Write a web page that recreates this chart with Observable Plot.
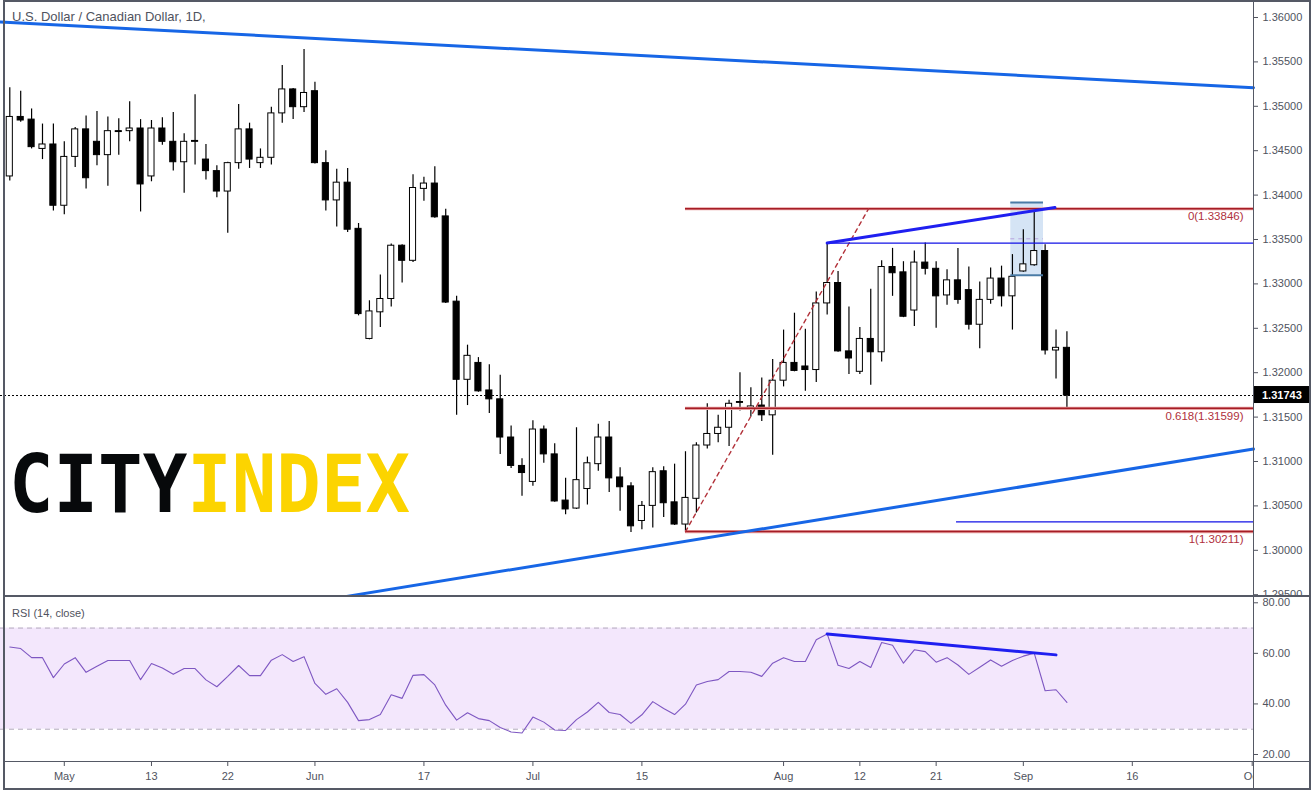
<!DOCTYPE html>
<html>
<head>
<meta charset="utf-8">
<script src="https://cdn.jsdelivr.net/npm/d3@7"></script>
<script src="https://cdn.jsdelivr.net/npm/@observablehq/plot@0.6"></script>
<style>
  body { margin: 0; background: #fff; }
  #wrap { position: relative; width: 1311px; height: 790px; overflow: hidden; font-family: "Liberation Sans", Arial, sans-serif; background: #fff; }
  #logo, #price, #rsi { position: absolute; left: 0; }
  #logo { top: 0; }
  #price { top: 0; }
  #rsi { top: 596px; }
  #price svg, #rsi svg { overflow: hidden; display: block; }
  .ln { position: absolute; background: #555965; }
  #title { position: absolute; left: 12px; top: 9px; font-size: 13px; line-height: 15px; color: #50535e; white-space: nowrap; }
  #rsiTitle { position: absolute; left: 12px; top: 606px; font-size: 11px; line-height: 14px; color: #50535e; white-space: nowrap; }
  #cover { position: absolute; left: 1254px; top: 763px; width: 55px; height: 25px; background: #fff; }
</style>
</head>
<body>
<div id="wrap">
  <svg id="logo" width="1311" height="790">
    <text x="9" y="512" font-family="DejaVu Sans Mono" font-weight="bold" font-size="80" textLength="401" lengthAdjust="spacingAndGlyphs"><tspan fill="#07090b">CITY</tspan><tspan fill="#fcd400">INDEX</tspan></text>
  </svg>
  <div id="price"></div>
  <div id="rsi"></div>
  <div id="title">U.S. Dollar / Canadian Dollar, 1D,</div>
  <div id="rsiTitle">RSI (14, close)</div>
  <div id="cover"></div>
  <div class="ln" style="left:3px;top:0;width:1308px;height:2px"></div>
  <div class="ln" style="left:3px;top:0;width:2px;height:790px"></div>
  <div class="ln" style="left:1309px;top:0;width:2px;height:790px"></div>
  <div class="ln" style="left:3px;top:788px;width:1308px;height:2px"></div>
  <div class="ln" style="left:3px;top:595px;width:1308px;height:2px"></div>
  <div class="ln" style="left:3px;top:761px;width:1308px;height:1px"></div>
  <div class="ln" style="left:1253px;top:0;width:1px;height:790px"></div>
</div>
<script>
// ---- Daily candles, USD/CAD (bar index 0 = 24 Apr 2019 ... 97 = 6 Sep 2019) ----
const opens = [1.3421,1.3488,1.3485,1.3452,1.3457,1.3388,1.3443,1.3474,1.3460,1.3445,
  1.3472,1.3472,1.3475,1.3421,1.3475,1.3460,1.3437,1.3461,1.3440,1.3427,
  1.3404,1.3436,1.3474,1.3436,1.3442,1.3492,1.3519,1.3499,1.3517,1.3436,
  1.3394,1.3414,1.3362,1.3238,1.3268,1.3283,1.3343,1.3326,1.3407,1.3413,
  1.3376,1.3280,1.3192,1.3211,1.3180,1.3170,1.3127,1.3095,1.3077,1.3136,
  1.3108,1.3056,1.3047,1.3069,1.3097,1.3127,1.3082,1.3072,1.3033,1.3050,
  1.3089,1.3054,1.3029,1.3058,1.3118,1.3131,1.3138,1.3167,1.3160,1.3163,
  1.3152,1.3191,1.3211,1.3207,1.3203,1.3278,1.3301,1.3224,1.3201,1.3238,
  1.3223,1.3319,1.3313,1.3270,1.3324,1.3317,1.3287,1.3304,1.3293,1.3254,
  1.3282,1.3306,1.3286,1.3314,1.3321,1.3337,1.3225,1.3228];
const highs = [1.3521,1.3517,1.3497,1.3480,1.3480,1.3460,1.3476,1.3489,1.3494,1.3488,
  1.3486,1.3505,1.3485,1.3484,1.3487,1.3493,1.3469,1.3513,1.3457,1.3433,
  1.3437,1.3502,1.3481,1.3452,1.3499,1.3546,1.3520,1.3564,1.3527,1.3450,
  1.3429,1.3430,1.3368,1.3281,1.3310,1.3345,1.3344,1.3423,1.3420,1.3432,
  1.3384,1.3286,1.3231,1.3217,1.3209,1.3197,1.3140,1.3103,1.3146,1.3140,
  1.3120,1.3081,1.3138,1.3105,1.3142,1.3145,1.3093,1.3076,1.3055,1.3093,
  1.3094,1.3097,1.3111,1.3121,1.3165,1.3152,1.3169,1.3200,1.3183,1.3194,
  1.3215,1.3248,1.3267,1.3249,1.3291,1.3346,1.3314,1.3274,1.3251,1.3294,
  1.3326,1.3340,1.3325,1.3337,1.3346,1.3325,1.3316,1.3340,1.3319,1.3302,
  1.3318,1.3320,1.3333,1.3361,1.33846,1.3344,1.3248,1.3246];
const lows = [1.3416,1.3482,1.3452,1.3440,1.3382,1.3378,1.3431,1.3407,1.3433,1.3410,
  1.3445,1.3460,1.3381,1.3415,1.3456,1.3427,1.3402,1.3434,1.3417,1.3397,
  1.3357,1.3429,1.3430,1.3430,1.3434,1.3481,1.3485,1.3493,1.3435,1.3382,
  1.3364,1.3358,1.3264,1.3237,1.3251,1.3274,1.3301,1.3324,1.3393,1.3374,
  1.3278,1.3152,1.3163,1.3178,1.3154,1.3108,1.3092,1.3061,1.3072,1.3098,
  1.3054,1.3040,1.3046,1.3051,1.3089,1.3065,1.3044,1.3020,1.3023,1.3025,
  1.3037,1.3028,1.30211,1.3042,1.3114,1.3121,1.3117,1.3157,1.3150,1.3145,
  1.3107,1.3184,1.3201,1.3179,1.3189,1.3265,1.3223,1.3198,1.3198,1.3186,
  1.3212,1.3286,1.3262,1.3252,1.3310,1.3250,1.3276,1.3277,1.3248,1.3227,
  1.3277,1.3274,1.3248,1.3313,1.3320,1.3220,1.3193,1.3158];
const closes = [1.3488,1.3484,1.3454,1.3457,1.3388,1.3443,1.3474,1.3419,1.3445,1.3472,
  1.3471,1.3475,1.3412,1.3475,1.3460,1.3437,1.3460,1.3460,1.3427,1.3404,
  1.3436,1.3474,1.3440,1.3442,1.3492,1.3519,1.3499,1.3515,1.3436,1.3394,
  1.3414,1.3361,1.3266,1.3269,1.3283,1.3343,1.3326,1.3408,1.3413,1.3375,
  1.3279,1.3192,1.3219,1.3179,1.3170,1.3127,1.3095,1.3087,1.3136,1.3108,
  1.3055,1.3046,1.3079,1.3098,1.3127,1.3081,1.3071,1.3027,1.3050,1.3088,
  1.3053,1.3029,1.3059,1.3118,1.3131,1.3138,1.3165,1.3166,1.3162,1.3152,
  1.3191,1.3211,1.3202,1.3203,1.3278,1.3301,1.3224,1.3216,1.3238,1.3223,
  1.3319,1.3312,1.3263,1.3324,1.3317,1.3286,1.3304,1.3282,1.3254,1.3282,
  1.3306,1.3286,1.3308,1.3322,1.3337,1.3225,1.3228,1.31743];
// ---- RSI (14, close) ----
const rsiValues = [62.5,61.9,58.3,58.3,50.4,55.8,58.3,52.5,54.9,57.2,
  57.2,57.2,49.6,56.0,54.2,51.7,54.0,54.0,49.5,46.8,
  50.9,55.2,51.2,51.2,57.3,59.5,56.8,58.7,48.1,43.8,
  46.0,40.6,33.4,33.8,35.8,43.6,42.2,51.3,51.6,47.5,
  39.5,33.6,36.5,34.2,33.4,30.7,28.9,28.5,34.8,32.8,
  29.7,29.5,33.8,36.8,40.6,36.6,35.8,32.3,35.7,40.9,
  38.2,35.8,39.9,47.5,48.9,49.6,52.8,52.8,52.5,50.9,
  56.1,58.3,56.8,56.8,65.4,67.7,55.3,54.0,56.8,54.4,
  64.3,63.2,56.1,61.4,60.7,56.5,58.3,55.4,51.7,54.5,
  57.4,54.9,57.2,58.9,60.1,45.2,45.6,40.6];
// ---- axes ----
const tickIndex  = [5, 13, 20, 28, 38, 48, 58, 71, 78, 85, 93, 103, 114];
const tickLabels = ["May","13","22","Jun","17","Jul","15","Aug","12","21","Sep","16","Oct"];
const priceTicks = [1.295,1.300,1.305,1.310,1.315,1.320,1.325,1.330,1.335,1.340,1.345,1.350,1.355,1.360];
const rsiTicks = [20, 40, 60, 80];
const rsiBand = [30, 70];
// ---- drawings (bar index, price) ----
const fibRatios = [0, 0.618, 1];
const fibValues = [1.33846, 1.31599, 1.30211];
const fibStart = 62;
const fibDiagonal = [[62, 1.30211], [78.8, 1.33846]];
const lastPrice = 1.31743;
const upperTrend = [[-0.853, 1.3595], [114.12, 1.3521]];
const lowerTrend = [[30.35, 1.2947], [114.12, 1.3114]];
const wedgeTop = [[75, 1.3346], [95.9, 1.3386]];
const thinLevels = [{from: 75, price: 1.3346}, {from: 86.87, price: 1.30321}];
const rangeBox = [{x1: 91.85, x2: 94.85, y1: 1.33098, y2: 1.33917, mid: 1.33508}];
const rsiDivergence = [[75, 67.7], [96, 59.4]];

const X_DOMAIN = [-0.853, 114.12];
const X_END = X_DOMAIN[1];

const candles = closes.map((c, i) => ({i, o: opens[i], h: highs[i], l: lows[i], c}));
const up = candles.filter(d => d.c >= d.o);
const down = candles.filter(d => d.c < d.o);
const fibRows = fibValues.map((v, k) => ({ratio: fibRatios[k], value: v, x1: fibStart, x2: X_END}));
const thinRows = thinLevels.map(d => ({...d, x2: X_END}));
const labelMap = new Map(tickIndex.map((t, k) => [t, tickLabels[k]]));

function priceTag(index, scales, values, dims) {
  const y = scales.y(lastPrice);
  const ns = "http://www.w3.org/2000/svg";
  const g = document.createElementNS(ns, "g");
  const r = document.createElementNS(ns, "rect");
  r.setAttribute("x", dims.width - dims.marginRight);
  r.setAttribute("y", y - 9);
  r.setAttribute("width", dims.marginRight);
  r.setAttribute("height", 17);
  r.setAttribute("fill", "#000");
  g.appendChild(r);
  const t = document.createElementNS(ns, "text");
  t.setAttribute("x", dims.width - dims.marginRight + 9);
  t.setAttribute("y", y);
  t.setAttribute("dy", "0.35em");
  t.setAttribute("text-anchor", "start");
  t.setAttribute("fill", "#fff");
  t.setAttribute("font-weight", "bold");
  t.setAttribute("font-size", "11");
  t.textContent = lastPrice.toFixed(5);
  g.appendChild(t);
  return g;
}

const priceChart = Plot.plot({
  width: 1311, height: 596,
  marginLeft: 0, marginRight: 58, marginTop: 0, marginBottom: 0,
  style: {fontFamily: "Liberation Sans, Arial, sans-serif", fontSize: "11px", color: "#50535e", background: "transparent"},
  x: {domain: X_DOMAIN, axis: null},
  y: {domain: [1.294797, 1.361914]},
  marks: [
    // price range box
    Plot.rect(rangeBox, {x1: "x1", x2: "x2", y1: "y1", y2: "y2", fill: "#d5e4f5"}),
    Plot.ruleY(rangeBox, {y: "mid", x1: "x1", x2: "x2", stroke: "#b7a3de", strokeDasharray: "4,4", strokeWidth: 1}),
    // candles
    Plot.ruleX(candles, {x: "i", y1: "l", y2: "h", stroke: "#000", strokeWidth: 1.2}),
    Plot.rect(up, {x1: d => d.i - 0.28, x2: d => d.i + 0.28, y1: "o", y2: "c", fill: "#fff", stroke: "#000", strokeWidth: 1}),
    Plot.rect(down, {x1: d => d.i - 0.28, x2: d => d.i + 0.28, y1: "o", y2: "c", fill: "#000", stroke: "#000", strokeWidth: 1}),
    // box edges
    Plot.ruleY(rangeBox, {y: "y2", x1: "x1", x2: "x2", stroke: "#4a7ba6", strokeWidth: 2}),
    Plot.ruleY(rangeBox, {y: "y1", x1: "x1", x2: "x2", stroke: "#4a7ba6", strokeWidth: 2}),
    // current price
    Plot.ruleY([lastPrice], {stroke: "#000", strokeDasharray: "2,2", strokeWidth: 1}),
    // fibonacci
    Plot.ruleY(fibRows, {y: "value", x1: "x1", x2: "x2", stroke: "#e8a0a0", strokeWidth: 3.2}),
    Plot.ruleY(fibRows, {y: "value", x1: "x1", x2: "x2", stroke: "#a51d26", strokeWidth: 1.6}),
    Plot.line(fibDiagonal, {x: d => d[0], y: d => d[1], stroke: "#b2323a", strokeWidth: 1.4, strokeDasharray: "4,4"}),
    Plot.text(fibRows, {x: "x2", y: "value", text: d => `${d.ratio}(${d.value.toFixed(5)})`, textAnchor: "end", dx: -10, dy: 8, fill: "#b0303c", fontSize: 11.5}),
    // trendlines
    Plot.line(upperTrend, {x: d => d[0], y: d => d[1], stroke: "#1766e6", strokeWidth: 3}),
    Plot.line(lowerTrend, {x: d => d[0], y: d => d[1], stroke: "#1766e6", strokeWidth: 3}),
    Plot.ruleY(thinRows, {y: "price", x1: "from", x2: "x2", stroke: "#1212e6", strokeWidth: 1.2}),
    Plot.line(wedgeTop, {x: d => d[0], y: d => d[1], stroke: "#1f1ff0", strokeWidth: 3}),
    // axis
    Plot.axisY(priceTicks, {anchor: "right", tickSize: 4, tickPadding: 5, tickFormat: d => d.toFixed(5), label: null, fontSize: 11}),
    priceTag
  ]
});
document.getElementById("price").appendChild(priceChart);

const rsiRows = rsiValues.map((v, i) => ({i, v}));
const rsiChart = Plot.plot({
  width: 1311, height: 194,
  marginLeft: 0, marginRight: 58, marginTop: 0, marginBottom: 28,
  style: {fontFamily: "Liberation Sans, Arial, sans-serif", fontSize: "11px", color: "#50535e", background: "transparent"},
  x: {domain: X_DOMAIN},
  y: {domain: [16.83, 82.49]},
  marks: [
    Plot.rect([{lo: rsiBand[0], hi: rsiBand[1]}], {x1: X_DOMAIN[0], x2: X_DOMAIN[1], y1: "lo", y2: "hi", fill: "#f3e7fc"}),
    Plot.ruleY(rsiBand, {stroke: "#b3aabd", strokeDasharray: "5,4", strokeWidth: 1}),
    Plot.line(rsiRows, {x: "i", y: "v", stroke: "#7e57c2", strokeWidth: 1.1}),
    Plot.line(rsiDivergence, {x: d => d[0], y: d => d[1], stroke: "#1f1ff0", strokeWidth: 3}),
    Plot.axisY(rsiTicks, {anchor: "right", tickSize: 4, tickPadding: 5, tickFormat: d => d.toFixed(2), label: null, fontSize: 11}),
    Plot.axisX(tickIndex, {anchor: "bottom", tickSize: 4, tickPadding: 6, tickFormat: d => labelMap.get(d), label: null, fontSize: 11})
  ]
});
document.getElementById("rsi").appendChild(rsiChart);
</script>
</body>
</html>
